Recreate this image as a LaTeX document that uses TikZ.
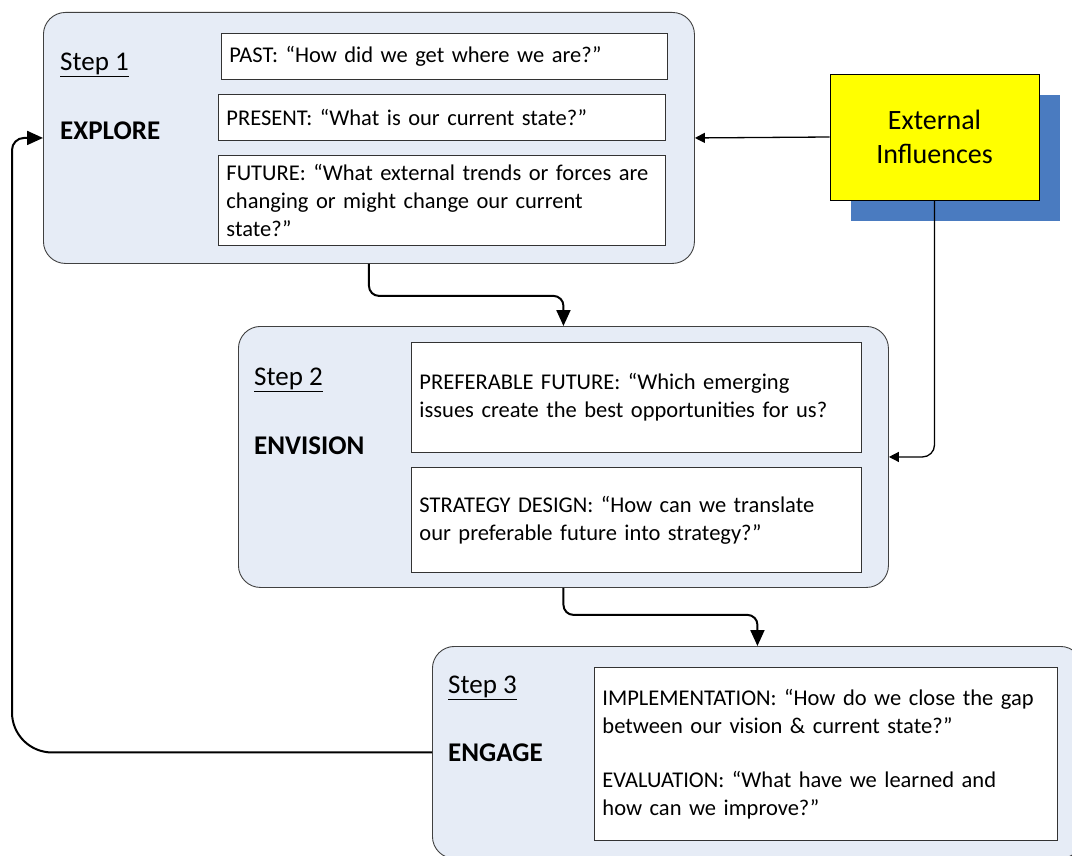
\documentclass[tikz,border=0pt]{standalone}
\usepackage{fontspec}
\setmainfont{Carlito}
\usetikzlibrary{arrows.meta,calc,shadows}

\definecolor{stepfill}{RGB}{230,236,246}
\definecolor{shadowblue}{RGB}{74,123,192}
\definecolor{extyellow}{RGB}{255,255,0}

\tikzset{
  stepbox/.style={draw=black!75,fill=stepfill,rounded corners=22pt,
    anchor=north west,inner sep=0pt,line width=0.9pt},
  qbox/.style={draw=black!80,fill=white,anchor=north west,align=left,
    inner sep=8pt,text width=#1,line width=0.9pt,
    font=\fontsize{22.5}{28}\selectfont},
  steplabel/.style={anchor=west,inner sep=0pt,font=\fontsize{27}{30}\selectfont},
  phase/.style={anchor=west,inner sep=0pt,font=\fontsize{27}{30}\selectfont\bfseries},
  extbox/.style={draw=black,fill=extyellow,minimum width=209pt,minimum height=126pt,
    align=center,line width=0.9pt,font=\fontsize{28}{34}\selectfont,
    general shadow={fill=shadowblue,shadow xshift=21pt,shadow yshift=-21pt}},
  flow/.style={line width=2pt,rounded corners=10pt,-{Triangle[length=16pt,width=14pt]}},
  extflow/.style={line width=1.3pt,rounded corners=12pt,-{Triangle[length=10pt,width=10pt]}}
}

\begin{document}
\begin{tikzpicture}[x=1pt,y=-1pt]
  \useasboundingbox (0,0) rectangle (1072,856);
  \clip (0,0) rectangle (1072,856);

  % step 1
  \node[stepbox,minimum width=651pt,minimum height=251pt] (step1) at (43,12) {};
  \node[steplabel] (s1) at (60,65) {\underline{Step 1}};
  \node[phase] (p1) at (60,131) {EXPLORE};
  \node[qbox=430pt,minimum height=46pt] (past) at (221,33)
    {PAST: “How did we get where we are?”};
  \node[qbox=431pt,minimum height=46pt] (present) at (218,94)
    {PRESENT: “What is our current state?”};
  \node[qbox=431pt,minimum height=90pt] (future) at (218,155)
    {FUTURE: “What external trends or forces are\\changing or might change our current\\state?”};

  % step 2
  \node[stepbox,minimum width=650pt,minimum height=261pt] (step2) at (238,326) {};
  \node[steplabel] (s2) at (254,380) {\underline{Step 2}};
  \node[phase] (p2) at (254,446) {ENVISION};
  \node[qbox=434pt,minimum height=110pt] (prefer) at (411,342)
    {PREFERABLE FUTURE: “Which emerging\\issues create the best opportunities for us?};
  \node[qbox=434pt,minimum height=105pt] (strategy) at (411,467)
    {STRATEGY DESIGN: “How can we translate\\our preferable future into strategy?”};

  % step 3
  \node[stepbox,minimum width=650pt,minimum height=212pt] (step3) at (432,646) {};
  \node[steplabel] (s3) at (448,688) {\underline{Step 3}};
  \node[phase] (p3) at (448,753) {ENGAGE};
  \node[qbox=447pt,minimum height=173pt] (engage) at (594,667)
    {IMPLEMENTATION: “How do we close the gap\\between our vision \& current state?”\\[26pt]EVALUATION: “What have we learned and\\how can we improve?”};

  % external influences
  \node[extbox] (ext) at (934.5,137) {External\\Influences};

  % connectors
  \draw[flow] (step1.south) -- ++(0,32) -| (step2.north);
  \draw[flow] (step2.south) -- ++(0,27) -| (step3.north);
  \draw[extflow] (ext.west) -- (step1.east);
  \draw[extflow] (ext.south) |- (step2.east);
  \coordinate (back) at (12,0);
  \draw[flow] (step3.west) [rounded corners=40pt] -- (back |- step3.west)
    [rounded corners=12pt] -- (back |- step1.west) -- (step1.west);
\end{tikzpicture}
\end{document}
